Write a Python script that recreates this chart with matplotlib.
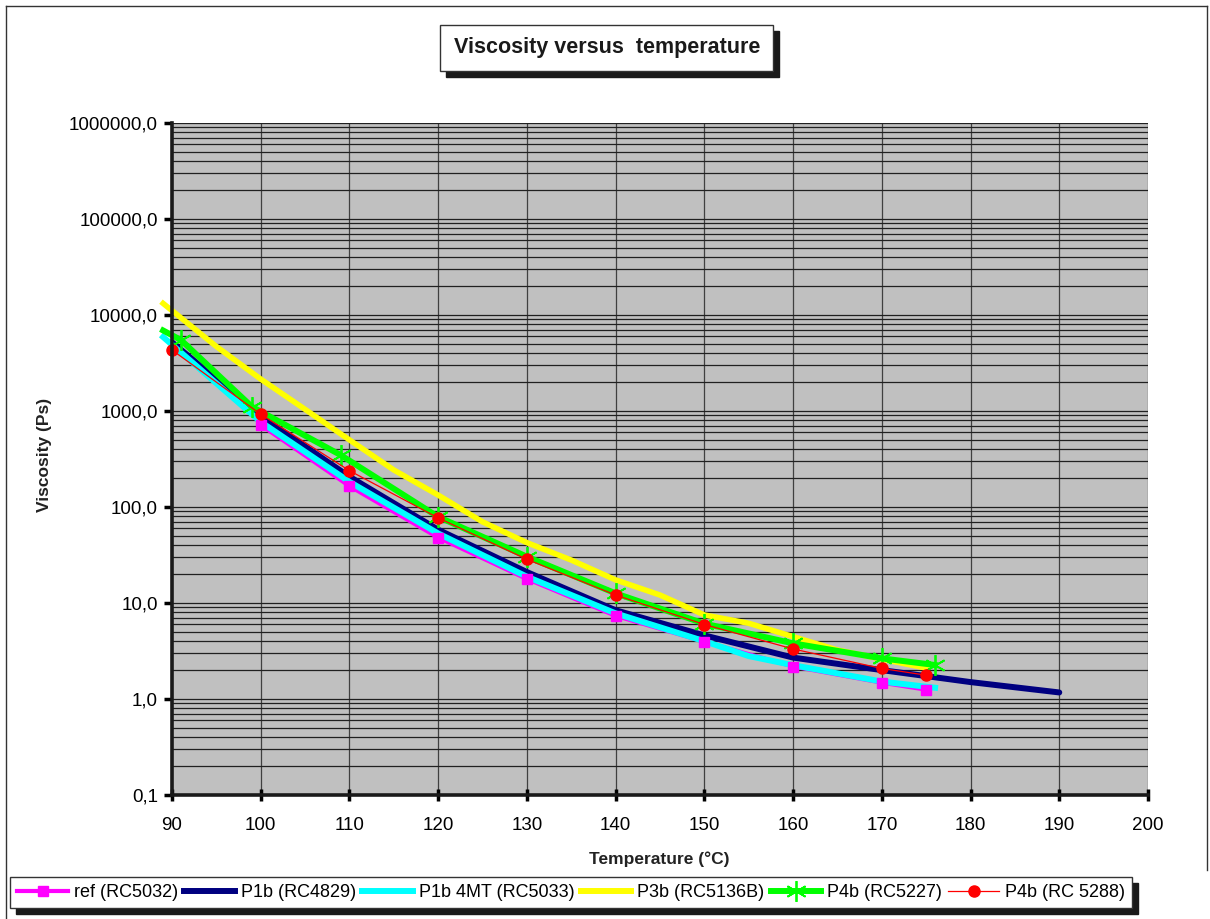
import matplotlib
matplotlib.use("Agg")
import matplotlib.pyplot as plt
from matplotlib.patches import Rectangle
from matplotlib.lines import Line2D
from matplotlib.ticker import FuncFormatter, LogLocator, NullFormatter

plt.rcParams['font.family'] = ['Liberation Sans', 'DejaVu Sans']

# data
ref_x = [100, 110, 120, 130, 140, 150, 160, 170, 175]
ref_y = [715, 165, 48, 17.8, 7.35, 3.95, 2.18, 1.48, 1.25]

p1b_x = [90, 100, 110, 120, 130, 140, 150, 160, 170, 180, 190]
p1b_y = [5200, 880, 207, 58, 21, 8.4, 4.6, 2.7, 2.0, 1.5, 1.17]

p1b4mt_x = [89, 100, 110, 120, 130, 140, 150, 155, 160, 170, 176]
p1b4mt_y = [5900, 770, 183, 53, 18.8, 7.8, 4.0, 2.8, 2.25, 1.52, 1.31]

p3b_x = [89, 95, 100, 105, 110, 115, 120, 125, 130, 135, 140, 145, 150, 155, 160, 165, 170, 175]
p3b_y = [13200, 4700, 2150, 1040, 500, 243, 133, 70, 42.5, 28, 17.4, 12.1, 7.5, 6.15, 4.46, 3.24, 2.6, 2.1]

p4b_x = [89, 91, 99, 109, 120, 130, 140, 150, 160, 170, 176]
p4b_y = [6900, 5500, 1109, 348, 79, 30.4, 12.6, 6.1, 3.8, 2.65, 2.26]

p4b2_x = [90, 100, 110, 120, 130, 140, 150, 160, 170, 175]
p4b2_y = [4320, 925, 239, 77, 28.5, 12.1, 5.97, 3.32, 2.08, 1.77]

labels = ["ref (RC5032)", "P1b (RC4829)", "P1b 4MT (RC5033)",
          "P3b (RC5136B)", "P4b (RC5227)", "P4b (RC 5288)"]

W, H = 1210, 919


def fx(x):
    return x / W


def fy(y):
    return 1 - y / H


fig = plt.figure(figsize=(12.1, 9.19), dpi=100)
ax = fig.add_axes([fx(172), fy(795), fx(1148) - fx(172), fy(123) - fy(795)])
ax.set_facecolor('#C0C0C0')

ax.plot(ref_x, ref_y, color='#FF00FF', lw=3, zorder=2.0, clip_on=False)
ax.plot(p1b_x, p1b_y, color='#000080', lw=4.3, zorder=2.1, clip_on=False,
        solid_capstyle='round')
ax.plot(p1b4mt_x, p1b4mt_y, color='#00FFFF', lw=4.3, zorder=2.2, clip_on=False)
ax.plot(ref_x, ref_y, ls='none', marker='s', ms=7.5, color='#FF00FF', zorder=2.25,
        clip_on=False)
ax.plot(p3b_x, p3b_y, color='#FFFF00', lw=4, zorder=2.3, clip_on=False)
ax.plot(p4b_x, p4b_y, color='#00FF00', lw=4.3, zorder=2.4, clip_on=False)
ax.plot(p4b_x[1:], p4b_y[1:], ls='none', marker=(6, 2, 0), ms=15, mew=1.3,
        color='#00FF00', zorder=2.45, clip_on=False)
ax.plot(p4b2_x, p4b2_y, color='#FF0000', lw=0.9, marker='o', ms=8, zorder=2.5,
        clip_on=False)

ax.set_yscale('log')
ax.set_xlim(90, 200)
ax.set_ylim(0.1, 1e6)
ax.set_xticks(range(90, 201, 10))
ax.yaxis.set_major_locator(LogLocator(base=10, numticks=20))
ax.yaxis.set_minor_locator(LogLocator(base=10, subs=range(2, 10), numticks=100))
ax.yaxis.set_major_formatter(FuncFormatter(lambda v, p: f"{v:.1f}".replace('.', ',')))
ax.yaxis.set_minor_formatter(NullFormatter())

ax.grid(True, axis='x', which='major', color='#404040', lw=0.9, zorder=1)
ax.grid(True, axis='y', which='both', color='#202020', lw=0.9, zorder=1)
ax.set_axisbelow(True)

for s in ['top', 'right']:
    ax.spines[s].set_visible(False)
for s in ['left', 'bottom']:
    ax.spines[s].set_linewidth(2.6)
    ax.spines[s].set_color('#1a1a1a')
    ax.spines[s].set_zorder(3)

ax.tick_params(axis='y', which='major', direction='out', length=6, width=2.5,
               labelsize=13.5, pad=4)
ax.tick_params(axis='y', which='minor', length=0)
ax.tick_params(axis='x', direction='inout', length=9, width=2.5,
               labelsize=13.5, pad=11)

# axis titles
fig.text(fx(659), fy(859), "Temperature (°C)", ha='center', va='center',
         fontsize=12.5, fontweight='bold', color='#222222')
fig.text(fx(45), fy(455), "Viscosity (Ps)", ha='center', va='center',
         rotation=90, fontsize=12.5, fontweight='bold', color='#222222')

# title box with shadow
fig.add_artist(Rectangle((fx(446), fy(77)), fx(333), 46 / H,
                         transform=fig.transFigure, color='#1a1a1a', zorder=3))
fig.add_artist(Rectangle((fx(440), fy(71)), fx(333), 46 / H,
                         transform=fig.transFigure, facecolor='white',
                         edgecolor='#333333', lw=1, zorder=3.1))
fig.text(fx(607), fy(47), "Viscosity versus  temperature", ha='center', va='center',
         fontsize=15.5, fontweight='bold', color='#1a1a1a', zorder=3.2)

# figure frame
fig.add_artist(Line2D([fx(6), fx(6)], [fy(6), 0], transform=fig.transFigure,
                      color='#333333', lw=1))
fig.add_artist(Line2D([fx(6), fx(1207)], [fy(6), fy(6)], transform=fig.transFigure,
                      color='#333333', lw=1))
fig.add_artist(Line2D([fx(1207), fx(1207)], [fy(6), fy(870)], transform=fig.transFigure,
                      color='#333333', lw=1))

# legend with shadow
handles = [
    Line2D([], [], color='#FF00FF', lw=3, marker='s', ms=7.5),
    Line2D([], [], color='#000080', lw=4.3),
    Line2D([], [], color='#00FFFF', lw=4.3),
    Line2D([], [], color='#FFFF00', lw=4.3),
    Line2D([], [], color='#00FF00', lw=4.3, marker=(6, 2, 0), ms=15, mew=1.3),
    Line2D([], [], color='#FF0000', lw=0.9, marker='o', ms=8),
]
leg = fig.legend(handles, labels, loc='upper left', ncol=6,
                 bbox_to_anchor=(fx(10), fy(877)),
                 borderaxespad=0, fontsize=13, handlelength=2.8,
                 handletextpad=0.35, columnspacing=0.33, borderpad=0.4,
                 fancybox=False, framealpha=1, edgecolor='#333333')
leg.get_frame().set_linewidth(1)
leg.set_zorder(5)

fig.canvas.draw()
bb = leg.get_window_extent().transformed(fig.transFigure.inverted())
fig.add_artist(Rectangle((bb.x0 + fx(6), bb.y0 - 6 / H), bb.width, bb.height,
                         transform=fig.transFigure, color='#1a1a1a', zorder=4))

fig.savefig("out.png", dpi=100)
